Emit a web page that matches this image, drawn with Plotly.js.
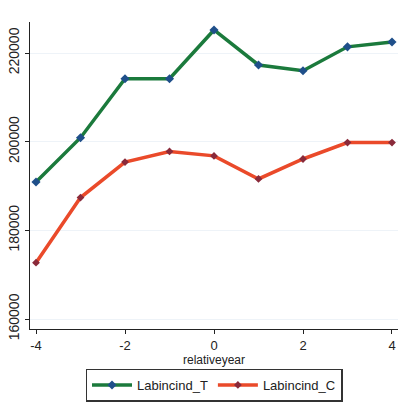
<!DOCTYPE html>
<html><head><meta charset="utf-8">
<script src="https://cdn.plot.ly/plotly-3.0.1.min.js"></script>
<style>html,body{margin:0;padding:0;background:#fff}#chart{width:405px;height:407px}</style>
</head><body><div id="chart"></div>
<script>
var relativeyear = [-4, -3, -2, -1, 0, 1, 2, 3, 4];
var labincindT = [190900, 200900, 214200, 214200, 225200, 217300, 216000, 221400, 222500];
var labincindC = [172700, 187400, 195400, 197800, 196800, 191600, 196100, 199800, 199800];
var yTicks = [160000, 180000, 200000, 220000];
var xTicks = [-4, -2, 0, 2, 4];

var traces = [
  {x: relativeyear, y: labincindT, name: 'Labincind_T', mode: 'lines+markers', type: 'scatter',
   line: {color: '#1b7a3c', width: 3.5},
   marker: {symbol: 'diamond', size: 7, color: '#1f4f8a'}},
  {x: relativeyear, y: labincindC, name: 'Labincind_C', mode: 'lines+markers', type: 'scatter',
   line: {color: '#ea4a2a', width: 3.5},
   marker: {symbol: 'diamond', size: 6, color: '#8a2a3a'}}
];
var layout = {
  width: 405, height: 407,
  margin: {l: 30, r: 7, t: 22, b: 77},
  paper_bgcolor: '#fff', plot_bgcolor: '#fff',
  font: {family: 'Liberation Sans, Arial, sans-serif', color: '#222', size: 13},
  showlegend: true,
  legend: {orientation: 'h', x: 0.5, xanchor: 'center', y: -0.125, yanchor: 'top',
    bordercolor: '#333', borderwidth: 1.5, font: {size: 13}, itemwidth: 40, tracegroupgap: 0},
  xaxis: {range: [-4.135, 4.135], tickvals: xTicks, ticktext: xTicks.map(String),
    showgrid: false, zeroline: false, showline: true, linecolor: '#222', linewidth: 1.2,
    ticks: 'outside', ticklen: 4, tickcolor: '#222', tickfont: {size: 13},
    title: {text: 'relativeyear', font: {size: 12}, standoff: 2}},
  yaxis: {range: [157750, 227000], tickvals: yTicks, ticktext: yTicks.map(String), tickangle: -90,
    showgrid: true, gridcolor: '#eef3f8', zeroline: false, showline: true, linecolor: '#222', linewidth: 1.2,
    ticks: 'outside', ticklen: 4, tickcolor: '#222', tickfont: {size: 14}}
};
Plotly.newPlot('chart', traces, layout, {displayModeBar: false, staticPlot: true});
</script></body></html>
